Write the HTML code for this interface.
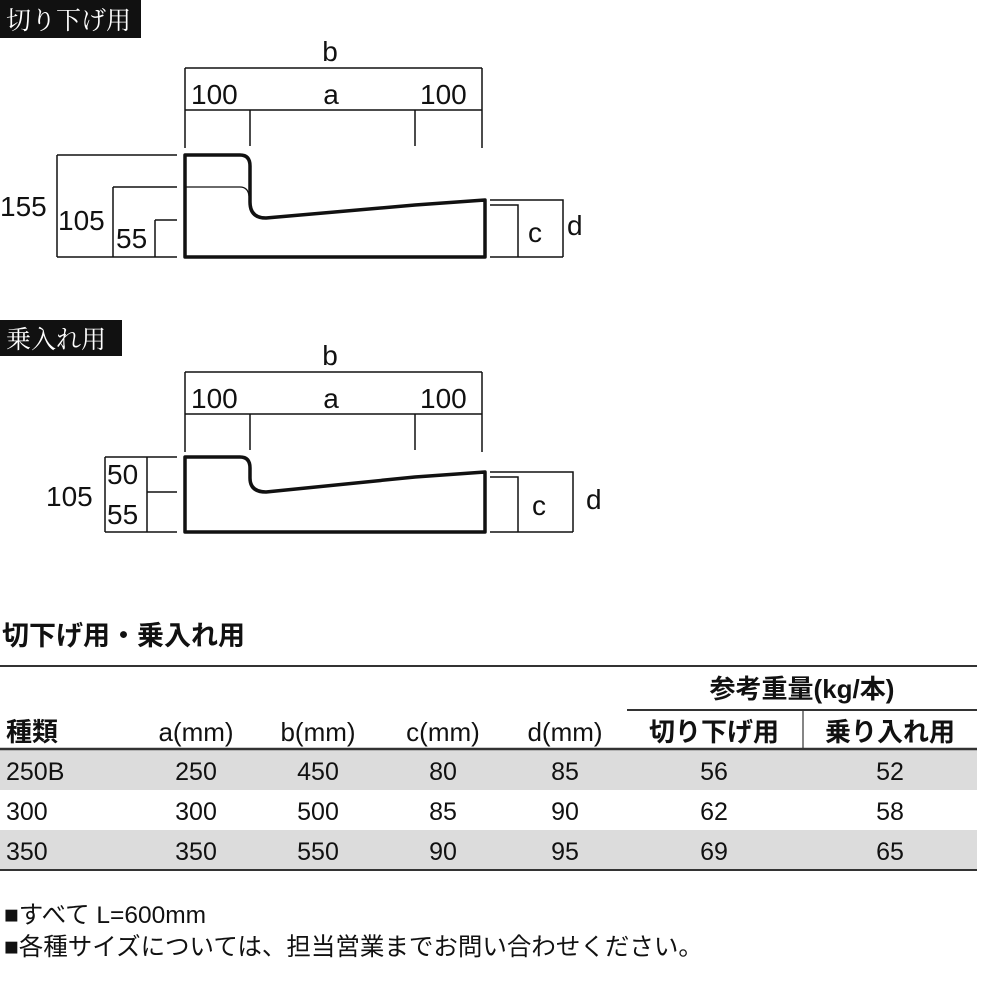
<!DOCTYPE html>
<html><head><meta charset="utf-8"><style>
body{margin:0;width:1000px;height:1000px;background:#fff;overflow:hidden;font-family:"Liberation Sans","Noto Sans CJK JP",sans-serif}
svg{position:absolute;left:0;top:0}
</style></head><body>
<svg width="1000" height="1000" xmlns="http://www.w3.org/2000/svg" font-family="Liberation Sans, Noto Sans CJK JP, sans-serif">
<rect x="0" y="0" width="141" height="38" fill="#111"/>
<text x="6" y="29" font-size="25" fill="#fff" font-family="Noto Serif CJK SC, serif">切り下げ用</text>
<rect x="0" y="320" width="122" height="36" fill="#111"/>
<text x="6" y="348" font-size="25" fill="#fff" font-family="Noto Serif CJK SC, serif">乗入れ用</text>

<g stroke="#111" fill="none" stroke-width="1.5">
<path d="M185 68H482M185 110H482M185 68V148M482 68V148M250 110V146M415 110V146"/>
<path d="M57 155H177M57 155V257M113 187H177M113 187V257M155 220H177M155 220V257M57 257H177"/>
<path d="M490 200H563V257M490 205H518V257M490 257H563"/>
<path d="M185 187H240Q248 187 249 196" stroke-width="1.2"/>
</g>
<path d="M185 155H240Q250 155 250 166V202Q250 218 266 218L415 205L485 200V257H185Z" fill="none" stroke="#111" stroke-width="3.5" stroke-linejoin="round"/>
<g font-size="28" fill="#111">
<text x="330" y="61" text-anchor="middle">b</text>
<text x="191" y="104">100</text><text x="331" y="104" text-anchor="middle">a</text><text x="420" y="104">100</text>
<text x="0" y="216">155</text><text x="58" y="230">105</text><text x="116" y="248">55</text>
<text x="528" y="242">c</text><text x="567" y="235">d</text>
</g>

<g stroke="#111" fill="none" stroke-width="1.5">
<path d="M185 372H482M185 414H482M185 372V452M482 372V452M250 414V450M415 414V450"/>
<path d="M105 457H177M105 457V532M147 457V532M147 492H177M105 532H177"/>
<path d="M490 472H573V532M490 477H518V532M490 532H573"/>
</g>
<path d="M185 457H240Q250 457 250 468V478Q250 492 266 492L415 477L485 472V532H185Z" fill="none" stroke="#111" stroke-width="3.5" stroke-linejoin="round"/>
<g font-size="28" fill="#111">
<text x="330" y="365" text-anchor="middle">b</text>
<text x="191" y="408">100</text><text x="331" y="408" text-anchor="middle">a</text><text x="420" y="408">100</text>
<text x="46" y="506">105</text><text x="107" y="484">50</text><text x="107" y="524">55</text>
<text x="532" y="515">c</text><text x="586" y="509">d</text>
</g>

<text x="2" y="645" font-size="27" font-weight="bold" fill="#111">切下げ用・乗入れ用</text>
<rect x="0" y="750" width="977" height="40" fill="#dcdcdc"/>
<rect x="0" y="830" width="977" height="40" fill="#dcdcdc"/>
<g stroke="#333" fill="none">
<path d="M0 666H977" stroke-width="2"/>
<path d="M627 710H977" stroke-width="2"/>
<path d="M803 710V748" stroke-width="1.2"/>
<path d="M0 749H977" stroke-width="2.5"/>
<path d="M0 870H977" stroke-width="2"/>
</g>
<g font-size="26" fill="#111" text-anchor="middle">
<text x="802" y="698" font-weight="bold">参考重量(kg/本)</text>
<text x="6" y="741" text-anchor="start" font-weight="bold">種類</text>
<text x="196" y="741">a(mm)</text><text x="318" y="741">b(mm)</text><text x="443" y="741">c(mm)</text><text x="565" y="741">d(mm)</text>
<text x="714" y="741" font-weight="bold">切り下げ用</text><text x="890" y="741" font-weight="bold">乗り入れ用</text>
</g>
<g font-size="25" fill="#111" text-anchor="middle">
<text x="6" y="780" text-anchor="start">250B</text><text x="196" y="780">250</text><text x="318" y="780">450</text><text x="443" y="780">80</text><text x="565" y="780">85</text><text x="714" y="780">56</text><text x="890" y="780">52</text>
<text x="6" y="820" text-anchor="start">300</text><text x="196" y="820">300</text><text x="318" y="820">500</text><text x="443" y="820">85</text><text x="565" y="820">90</text><text x="714" y="820">62</text><text x="890" y="820">58</text>
<text x="6" y="860" text-anchor="start">350</text><text x="196" y="860">350</text><text x="318" y="860">550</text><text x="443" y="860">90</text><text x="565" y="860">95</text><text x="714" y="860">69</text><text x="890" y="860">65</text>
</g>
<g font-size="24.5" fill="#111">
<text x="4" y="923">■すべて L=600mm</text>
<text x="4" y="955">■各種サイズについては、担当営業までお問い合わせください。</text>
</g>
</svg>
</body></html>
